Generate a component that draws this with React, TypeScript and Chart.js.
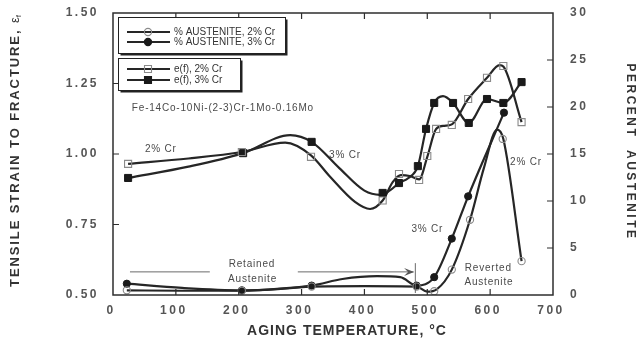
import React, { useEffect, useRef } from 'react';
import { Chart, registerables } from 'chart.js';

Chart.register(...registerables);

// ---- axis ticks ----
const temperatureTicks = [0, 100, 200, 300, 400, 500, 600, 700];
const strainTicks = [0.5, 0.75, 1.0, 1.25, 1.5];
const austeniteTicks = [0, 5, 10, 15, 20, 25, 30];

// ---- measured points (markers) ----
const efTemp2 = [24, 205, 315, 429, 455, 487, 500, 514, 539, 565, 595, 621, 650];
const ef2 = [0.965, 1.007, 0.99, 0.835, 0.929, 0.908, 0.993, 1.089, 1.103, 1.195, 1.27, 1.312, 1.113];
const efTemp3 = [24, 207, 316, 429, 455, 485, 498, 511, 541, 566, 595, 621, 650];
const ef3 = [0.915, 1.003, 1.043, 0.862, 0.897, 0.957, 1.089, 1.181, 1.181, 1.11, 1.195, 1.181, 1.255];
const ausTemp2 = [22, 205, 316, 483, 511, 539, 568, 620, 650];
const aus2 = [0.5, 0.45, 0.9, 0.9, 0.4, 2.7, 8.0, 16.6, 3.6];
const ausTemp3 = [22, 205, 316, 483, 511, 539, 565, 622];
const aus3 = [1.2, 0.5, 1.0, 1.0, 1.9, 6.0, 10.5, 19.4];

// ---- hand-drawn fitted curves ----
const efCurveTemp2 = [24, 120, 205, 274, 315, 345, 385, 409, 429, 445, 458, 472, 487, 500, 514, 527, 539, 565, 595, 615, 621, 650];
const efCurve2 = [0.965, 0.984, 1.007, 1.04, 0.995, 0.92, 0.83, 0.805, 0.835, 0.9, 0.925, 0.922, 0.91, 0.99, 1.089, 1.1, 1.105, 1.195, 1.27, 1.315, 1.31, 1.113];
const efCurveTemp3 = [24, 120, 207, 282, 316, 360, 400, 425, 440, 455, 470, 485, 498, 511, 525, 541, 566, 595, 621, 650];
const efCurve3 = [0.915, 0.955, 1.003, 1.067, 1.043, 0.95, 0.87, 0.855, 0.87, 0.897, 0.915, 0.957, 1.089, 1.181, 1.205, 1.181, 1.11, 1.195, 1.181, 1.255];
const ausCurveTemp2 = [22, 110, 205, 316, 400, 483, 500, 515, 539, 568, 590, 611, 621, 650];
const ausCurve2 = [0.5, 0.45, 0.45, 0.9, 0.95, 0.9, 0.35, 0.6, 2.7, 8.0, 13.5, 17.6, 16.6, 3.6];
const ausCurveTemp3 = [22, 110, 205, 316, 365, 420, 457, 483, 511, 539, 565, 622];
const ausCurve3 = [1.2, 0.75, 0.5, 1.0, 1.7, 2.0, 1.9, 1.0, 1.9, 6.0, 10.5, 19.4];

// ---- text annotations (x in °C, y in strain units) ----
const annotations = [
  { text: 'Fe-14Co-10Ni-(2-3)Cr-1Mo-0.16Mo', x: 30, y: 1.163, align: 'left' },
  { text: '2% Cr', x: 76, y: 1.018, align: 'center' },
  { text: '3% Cr', x: 369, y: 0.996, align: 'center' },
  { text: '2% Cr', x: 657, y: 0.972, align: 'center' },
  { text: '3% Cr', x: 500, y: 0.734, align: 'center' },
  { text: 'Retained', x: 221, y: 0.61, align: 'center' },
  { text: 'Austenite', x: 222, y: 0.557, align: 'center' },
  { text: 'Reverted', x: 597, y: 0.596, align: 'center' },
  { text: 'Austenite', x: 598, y: 0.546, align: 'center' },
];

const LINE = '#262626';
const FONT = '"Liberation Sans", Arial, sans-serif';

const pts = (xs: number[], ys: number[]) => xs.map((x, i) => ({ x, y: ys[i] }));

const curve = (data: any, axis: string) => ({
  data,
  yAxisID: axis,
  borderColor: LINE,
  borderWidth: 2.2,
  pointRadius: 0,
  cubicInterpolationMode: 'monotone',
  fill: false,
  order: 2,
});

const markers = (label: string, data: any, axis: string, style: string, filled: boolean) => ({
  label,
  data,
  yAxisID: axis,
  showLine: false,
  pointStyle: style,
  pointRadius: style === 'rect' ? 5 : 3.6,
  pointBorderWidth: filled ? 1 : 1.1,
  pointBorderColor: filled ? '#1a1a1a' : '#8a8a8a',
  pointBackgroundColor: filled ? '#1a1a1a' : 'rgba(255,255,255,0)',
  order: 0,
});

const drawMarker = (ctx: CanvasRenderingContext2D, x: number, y: number, style: string, filled: boolean) => {
  ctx.save();
  ctx.lineWidth = 1.1;
  ctx.strokeStyle = filled ? '#1a1a1a' : '#8a8a8a';
  ctx.fillStyle = '#1a1a1a';
  ctx.beginPath();
  if (style === 'rect') ctx.rect(x - 3.5, y - 3.5, 7, 7);
  else ctx.arc(x, y, 3.6, 0, Math.PI * 2);
  if (filled) ctx.fill();
  ctx.stroke();
  ctx.restore();
};

const spacingPlugin = {
  id: 'spacing',
  beforeDraw(chart: any) {
    chart.ctx.letterSpacing = '2.5px';
  },
  beforeDatasetsDraw(chart: any) {
    chart.ctx.letterSpacing = '0px';
  },
};

const framePlugin = {
  id: 'frame',
  afterDatasetsDraw(chart: any) {
    const { ctx, chartArea: a, scales } = chart;
    ctx.save();
    ctx.strokeStyle = '#2e2e2e';
    ctx.lineWidth = 1.5;
    ctx.strokeRect(a.left, a.top, a.right - a.left, a.bottom - a.top);
    ctx.lineWidth = 1.2;
    const L = 6;
    ctx.beginPath();
    scales.x.ticks.forEach((t: any) => {
      const px = scales.x.getPixelForValue(t.value);
      if (px <= a.left + 1 || px >= a.right - 1) return;
      ctx.moveTo(px, a.bottom);
      ctx.lineTo(px, a.bottom - L);
      ctx.moveTo(px, a.top);
      ctx.lineTo(px, a.top + L);
    });
    scales.y.ticks.forEach((t: any) => {
      const py = scales.y.getPixelForValue(t.value);
      if (py <= a.top + 1 || py >= a.bottom - 1) return;
      ctx.moveTo(a.left, py);
      ctx.lineTo(a.left + L, py);
    });
    scales.y1.ticks.forEach((t: any) => {
      const py = scales.y1.getPixelForValue(t.value);
      if (py <= a.top + 1 || py >= a.bottom - 1) return;
      ctx.moveTo(a.right, py);
      ctx.lineTo(a.right - L, py);
    });
    ctx.stroke();
    ctx.restore();
  },
};

const annotationPlugin = {
  id: 'notes',
  afterDatasetsDraw(chart: any) {
    const { ctx, scales } = chart;
    const X = (v: number) => scales.x.getPixelForValue(v);
    const Y = (v: number) => scales.y.getPixelForValue(v);
    ctx.save();
    ctx.fillStyle = '#4a4a4a';
    ctx.font = `10px ${FONT}`;
    ctx.letterSpacing = '0.8px';
    ctx.textBaseline = 'middle';
    annotations.forEach((n) => {
      ctx.textAlign = n.align;
      ctx.fillText(n.text, X(n.x), Y(n.y));
    });
    // retained austenite arrow
    ctx.strokeStyle = '#6a6a6a';
    ctx.lineWidth = 1;
    const ay = Y(0.582);
    ctx.beginPath();
    ctx.moveTo(X(27), ay);
    ctx.lineTo(X(154), ay);
    ctx.moveTo(X(294), ay);
    ctx.lineTo(X(478), ay);
    ctx.moveTo(X(481), Y(0.613));
    ctx.lineTo(X(481), Y(0.507));
    ctx.stroke();
    const tip = X(479);
    ctx.beginPath();
    ctx.moveTo(tip, ay);
    ctx.lineTo(tip - 10, ay - 4);
    ctx.lineTo(tip - 6, ay);
    ctx.lineTo(tip - 10, ay + 4);
    ctx.closePath();
    ctx.fillStyle = '#555';
    ctx.fill();
    ctx.restore();
  },
};

const legendGroups = [
  {
    dx: 5, dy: 4, w: 167, h: 36,
    rows: [
      { text: '% AUSTENITE, 2% Cr', style: 'circle', filled: false, dy: 15 },
      { text: '% AUSTENITE, 3% Cr', style: 'circle', filled: true, dy: 25 },
    ],
  },
  {
    dx: 5, dy: 45, w: 122, h: 32,
    rows: [
      { text: 'e(f), 2% Cr', style: 'rect', filled: false, dy: 11 },
      { text: 'e(f), 3% Cr', style: 'rect', filled: true, dy: 22 },
    ],
  },
];

const legendPlugin = {
  id: 'boxLegend',
  afterDraw(chart: any) {
    const { ctx, chartArea: a } = chart;
    ctx.save();
    ctx.letterSpacing = '0px';
    legendGroups.forEach((g) => {
      const x = a.left + g.dx;
      const y = a.top + g.dy;
      ctx.fillStyle = '#222';
      ctx.fillRect(x + 2.5, y + 2.5, g.w, g.h);
      ctx.fillStyle = '#fff';
      ctx.fillRect(x, y, g.w, g.h);
      ctx.strokeStyle = '#222';
      ctx.lineWidth = 1;
      ctx.strokeRect(x + 0.5, y + 0.5, g.w, g.h);
      g.rows.forEach((r) => {
        const ry = y + r.dy;
        ctx.strokeStyle = LINE;
        ctx.lineWidth = 2;
        ctx.beginPath();
        ctx.moveTo(x + 9, ry);
        ctx.lineTo(x + 52, ry);
        ctx.stroke();
        drawMarker(ctx, x + 30, ry, r.style, r.filled);
        ctx.fillStyle = '#333';
        ctx.font = `10px ${FONT}`;
        ctx.textAlign = 'left';
        ctx.textBaseline = 'middle';
        ctx.fillText(r.text, x + 56, ry + 0.5);
      });
    });
    ctx.restore();
  },
};

const titlePlugin = {
  id: 'titles',
  afterDraw(chart: any) {
    const { ctx } = chart;
    ctx.save();
    ctx.fillStyle = '#333';
    ctx.textBaseline = 'middle';
    // left title
    ctx.save();
    ctx.translate(15, 151);
    ctx.rotate(-Math.PI / 2);
    const main = 'TENSILE STRAIN TO FRACTURE, ';
    ctx.font = `bold 13px ${FONT}`;
    ctx.letterSpacing = '1.9px';
    const w1 = ctx.measureText(main).width;
    ctx.letterSpacing = '0px';
    ctx.font = `13px ${FONT}`;
    const w2 = ctx.measureText('ε').width;
    ctx.font = `8px ${FONT}`;
    const w3 = ctx.measureText('f').width;
    let sx = -(w1 + w2 + w3) / 2;
    ctx.textAlign = 'left';
    ctx.font = `bold 13px ${FONT}`;
    ctx.letterSpacing = '1.9px';
    ctx.fillText(main, sx, 0);
    ctx.letterSpacing = '0px';
    ctx.font = `13px ${FONT}`;
    ctx.fillText('ε', sx + w1, 0);
    ctx.font = `8px ${FONT}`;
    ctx.fillText('f', sx + w1 + w2, 4);
    ctx.restore();
    // right title
    ctx.save();
    ctx.translate(630, 152);
    ctx.rotate(Math.PI / 2);
    ctx.font = `bold 12px ${FONT}`;
    ctx.letterSpacing = '2.5px';
    ctx.textAlign = 'center';
    ctx.fillText('PERCENT  AUSTENITE', 0, 0);
    ctx.restore();
    // bottom title
    ctx.font = `bold 14px ${FONT}`;
    ctx.letterSpacing = '1px';
    ctx.textAlign = 'center';
    ctx.fillText('AGING TEMPERATURE, °C', 347, 331);
    ctx.restore();
  },
};

const tickFont = { family: FONT, size: 12, weight: 'bold' as const };

const fitVertical = (width: number) => (s: any) => {
  s.width = width;
  s.paddingTop = 0;
  s.paddingBottom = 0;
};

export default function App() {
  const ref = useRef<HTMLCanvasElement | null>(null);

  useEffect(() => {
    if (!ref.current) return;
    const chart = new Chart(ref.current, {
      type: 'line',
      data: {
        datasets: [
          curve(pts(efCurveTemp2, efCurve2), 'y'),
          curve(pts(efCurveTemp3, efCurve3), 'y'),
          curve(pts(ausCurveTemp2, ausCurve2), 'y1'),
          curve(pts(ausCurveTemp3, ausCurve3), 'y1'),
          markers('e(f), 2% Cr', pts(efTemp2, ef2), 'y', 'rect', false),
          markers('e(f), 3% Cr', pts(efTemp3, ef3), 'y', 'rect', true),
          markers('% AUSTENITE, 2% Cr', pts(ausTemp2, aus2), 'y1', 'circle', false),
          markers('% AUSTENITE, 3% Cr', pts(ausTemp3, aus3), 'y1', 'circle', true),
        ] as any,
      },
      options: {
        animation: false,
        responsive: false,
        events: [],
        layout: { padding: { top: 13, left: 0, right: 0, bottom: 0 } },
        plugins: { legend: { display: false }, tooltip: { enabled: false } },
        scales: {
          x: {
            type: 'linear',
            min: 0,
            max: 700,
            afterBuildTicks: (s: any) => { s.ticks = temperatureTicks.map((v) => ({ value: v })); },
            afterFit: (s: any) => { s.height = 48; s.paddingLeft = 0; s.paddingRight = 0; },
            grid: { display: false, drawTicks: false },
            border: { display: false },
            ticks: { font: tickFont, color: '#555', padding: 8, labelOffset: -2, maxRotation: 0, callback: (v: any) => String(v) },
          },
          y: {
            type: 'linear',
            position: 'left',
            min: 0.5,
            max: 1.5,
            afterBuildTicks: (s: any) => { s.ticks = strainTicks.map((v) => ({ value: v })); },
            afterFit: fitVertical(113),
            grid: { display: false, drawTicks: false },
            border: { display: false },
            ticks: { font: tickFont, color: '#555', padding: 14, callback: (v: any) => Number(v).toFixed(2) },
          },
          y1: {
            type: 'linear',
            position: 'right',
            min: 0,
            max: 30,
            afterBuildTicks: (s: any) => { s.ticks = austeniteTicks.map((v) => ({ value: v })); },
            afterFit: fitVertical(87),
            grid: { display: false, drawTicks: false },
            border: { display: false },
            ticks: { font: tickFont, color: '#555', padding: 17, callback: (v: any) => String(v) },
          },
        },
      } as any,
      plugins: [spacingPlugin, framePlugin, annotationPlugin, legendPlugin, titlePlugin],
    });
    return () => chart.destroy();
  }, []);

  return (
    <div style={{ position: 'fixed', left: 0, top: 0, width: 640, height: 343, background: '#fff' }}>
      <canvas ref={ref} width={640} height={343} style={{ display: 'block' }} />
    </div>
  );
}
